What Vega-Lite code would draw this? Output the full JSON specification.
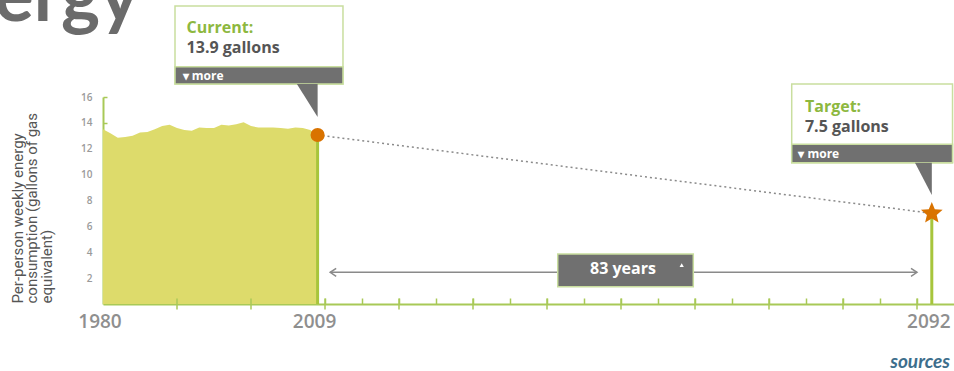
{
  "$schema": "https://vega.github.io/schema/vega-lite/v6.json",
  "width": 851,
  "height": 207,
  "autosize": {"type": "none"},
  "padding": {"left": 103, "top": 97, "right": 0, "bottom": 67},
  "background": "white",
  "config": {"view": {"stroke": null}, "font": "Open Sans"},
  "resolve": {"axis": {"x": "independent", "y": "independent"}},
  "datasets": {
    "series": [
      {"year": 1980, "value": 13.5}, {"year": 1981, "value": 13.2}, {"year": 1982, "value": 12.85},
      {"year": 1983, "value": 12.9}, {"year": 1984, "value": 13.0}, {"year": 1985, "value": 13.25},
      {"year": 1986, "value": 13.3}, {"year": 1987, "value": 13.5}, {"year": 1988, "value": 13.75},
      {"year": 1989, "value": 13.85}, {"year": 1990, "value": 13.6}, {"year": 1991, "value": 13.45},
      {"year": 1992, "value": 13.4}, {"year": 1993, "value": 13.65}, {"year": 1994, "value": 13.6},
      {"year": 1995, "value": 13.6}, {"year": 1996, "value": 13.85}, {"year": 1997, "value": 13.8},
      {"year": 1998, "value": 13.9}, {"year": 1999, "value": 14.05}, {"year": 2000, "value": 13.75},
      {"year": 2001, "value": 13.65}, {"year": 2002, "value": 13.65}, {"year": 2003, "value": 13.65},
      {"year": 2004, "value": 13.6}, {"year": 2005, "value": 13.55}, {"year": 2006, "value": 13.65},
      {"year": 2007, "value": 13.6}, {"year": 2008, "value": 13.45}, {"year": 2009, "value": 13.06}
    ],
    "points": [
      {"year": 2009, "value": 13.06, "kind": "Current"},
      {"year": 2092, "value": 7.01, "kind": "Target"}
    ],
    "currentPoint": [{"year": 2009, "value": 13.06}],
    "targetPoint": [{"year": 2092, "value": 7.01}],
    "yearLabels": [
      {"year": 1980, "label": "1980"},
      {"year": 2009, "label": "2009"},
      {"year": 2092, "label": "2092"}
    ],
    "decades": [
      {"year": 1990}, {"year": 2000}, {"year": 2010}, {"year": 2020}, {"year": 2030}, {"year": 2040},
      {"year": 2050}, {"year": 2060}, {"year": 2070}, {"year": 2080}, {"year": 2090}
    ],
    "arrow": [{"x1": 2010.7, "x2": 2090.0, "y": 2.45}],
    "box83": [{"x1": 2041.45, "x2": 2059.77, "y1": 3.86, "y2": 1.34}],
    "callouts": [
      {"name": "current", "x1": 1989.73, "x2": 2012.43, "top": 23.03, "mid": 18.34, "bot": 17.0},
      {"name": "target", "x1": 2073.07, "x2": 2094.8, "top": 17.0, "mid": 12.34, "bot": 10.92}
    ],
    "pointerCurrent": [
      {"x": 2006.2, "y": 17.0, "y2": 17.0},
      {"x": 2009, "y": 14.45, "y2": 17.0}
    ],
    "pointerTarget": [
      {"x": 2089.73, "y": 10.92, "y2": 10.92},
      {"x": 2092, "y": 8.43, "y2": 10.92}
    ],
    "texts": [
      {"t": "Current:", "x": 1991.3, "y": 20.95, "role": "head"},
      {"t": "13.9 gallons", "x": 1991.3, "y": 19.4, "role": "value"},
      {"t": "▾ more", "x": 1990.77, "y": 17.62, "role": "more"},
      {"t": "Target:", "x": 2074.86, "y": 14.86, "role": "head"},
      {"t": "7.5 gallons", "x": 2074.86, "y": 13.32, "role": "value"},
      {"t": "▾ more", "x": 2073.96, "y": 11.59, "role": "more"},
      {"t": "83 years", "x": 2050.27, "y": 2.32, "role": "years"}
    ],
    "heading": [{"t": "ergy", "x": 1965.3, "y": 21.9}],
    "footer": [{"t": "sources", "x": 2094.46, "y": -4.48}],
    "tri": [{"x": 2058.2, "y": 3.01}],
    "chevL": [{"x": 2010.7, "y": 2.45}],
    "chevR": [{"x": 2090.0, "y": 2.45}]
  },
  "layer": [
    {
      "data": {"name": "series"},
      "mark": {"type": "area", "color": "#dddb6b"},
      "encoding": {
        "x": {"field": "year", "type": "quantitative",
              "scale": {"domain": [1980, 2095], "nice": false, "zero": false},
              "axis": {"values": [1985,1990,1995,2000,2005,2010,2015,2020,2025,2030,2035,2040,2045,2050,2055,2060,2065,2070,2075,2080,2085,2090],
                       "orient": "bottom", "tickSize": -6, "labels": false, "title": null, "grid": false,
                       "domainColor": "#a8c957", "domainWidth": 2, "tickColor": "#a8c957", "tickWidth": 1.5}},
        "y": {"field": "value", "type": "quantitative",
              "scale": {"domain": [0, 16], "nice": false, "zero": true},
              "axis": {"values": [2,4,6,8,10,12,14,16], "orient": "left", "tickSize": -4, "grid": false, "labelOverlap": false,
                       "domainColor": "#a8c957", "domainWidth": 2, "tickColor": "#a8c957", "tickWidth": 1.5,
                       "labelColor": "#9a9a9a", "labelFontSize": 10, "labelFont": "Open Sans", "labelFontWeight": 600, "labelPadding": 15,
                       "title": ["Per-person weekly energy", "consumption (gallons of gas", "equivalent)"],
                       "titleFont": "Roboto", "titleFontSize": 15, "titleFontWeight": "normal", "titleColor": "#555555",
                       "titleAngle": -90, "titleAnchor": "start", "titleAlign": "left", "titleBaseline": "top",
                       "titleX": -93, "titleY": 206, "titleLineHeight": 14.5}}
      }
    },
    {
      "data": {"name": "heading"},
      "mark": {"type": "text", "color": "#6b6b6b", "fontSize": 74, "fontWeight": "bold", "font": "Lato", "align": "left", "baseline": "alphabetic"},
      "encoding": {
        "x": {"field": "x", "type": "quantitative", "axis": null},
        "y": {"field": "y", "type": "quantitative", "axis": null},
        "text": {"field": "t"}
      }
    },
    {
      "data": {"name": "footer"},
      "mark": {"type": "text", "color": "#3d6e8c", "fontSize": 19, "fontWeight": "bold", "fontStyle": "italic", "font": "Lato", "align": "right", "baseline": "middle"},
      "encoding": {
        "x": {"field": "x", "type": "quantitative", "axis": null},
        "y": {"field": "y", "type": "quantitative", "axis": null},
        "text": {"field": "t"}
      }
    },
    {
      "data": {"name": "decades"},
      "mark": {"type": "tick", "orient": "vertical", "size": 11, "thickness": 1.5, "color": "#a8c957", "opacity": 1},
      "encoding": {
        "x": {"field": "year", "type": "quantitative", "axis": null},
        "y": {"datum": 0, "type": "quantitative", "axis": null}
      }
    },
    {
      "data": {"name": "yearLabels"},
      "mark": {"type": "text", "color": "#8f8f8f", "fontSize": 19, "fontWeight": 600, "font": "Open Sans", "align": "center", "baseline": "middle", "dx": -3},
      "encoding": {
        "x": {"field": "year", "type": "quantitative", "axis": null},
        "y": {"datum": -1.4, "type": "quantitative", "axis": null},
        "text": {"field": "label"}
      }
    },
    {
      "data": {"name": "points"},
      "mark": {"type": "rule", "color": "#a7c53c", "strokeWidth": 3},
      "encoding": {
        "x": {"field": "year", "type": "quantitative", "axis": null},
        "y": {"field": "value", "type": "quantitative", "axis": null},
        "y2": {"datum": 0}
      }
    },
    {
      "data": {"name": "points"},
      "mark": {"type": "line", "color": "#8a8a8a", "strokeWidth": 1.5, "strokeDash": [2, 3]},
      "encoding": {
        "x": {"field": "year", "type": "quantitative", "axis": null},
        "y": {"field": "value", "type": "quantitative", "axis": null}
      }
    },
    {
      "data": {"name": "arrow"},
      "mark": {"type": "rule", "color": "#8a8a8a", "strokeWidth": 1.5},
      "encoding": {
        "x": {"field": "x1", "type": "quantitative", "axis": null},
        "x2": {"field": "x2"},
        "y": {"field": "y", "type": "quantitative", "axis": null}
      }
    },
    {
      "data": {"name": "chevL"},
      "mark": {"type": "point", "shape": "M1.5,-1L0,0L1.5,1", "size": 64, "filled": false, "stroke": "#8a8a8a", "strokeWidth": 1.5, "opacity": 1},
      "encoding": {
        "x": {"field": "x", "type": "quantitative", "axis": null},
        "y": {"field": "y", "type": "quantitative", "axis": null}
      }
    },
    {
      "data": {"name": "chevR"},
      "mark": {"type": "point", "shape": "M-1.5,-1L0,0L-1.5,1", "size": 64, "filled": false, "stroke": "#8a8a8a", "strokeWidth": 1.5, "opacity": 1},
      "encoding": {
        "x": {"field": "x", "type": "quantitative", "axis": null},
        "y": {"field": "y", "type": "quantitative", "axis": null}
      }
    },
    {
      "data": {"name": "box83"},
      "mark": {"type": "rect", "fill": "#707070", "stroke": "#c9de9f", "strokeWidth": 1.5},
      "encoding": {
        "x": {"field": "x1", "type": "quantitative", "axis": null},
        "x2": {"field": "x2"},
        "y": {"field": "y1", "type": "quantitative", "axis": null},
        "y2": {"field": "y2"}
      }
    },
    {
      "data": {"name": "texts"},
      "transform": [{"filter": "datum.role === 'years'"}],
      "mark": {"type": "text", "color": "#ffffff", "fontSize": 16, "fontWeight": "bold", "font": "Open Sans", "align": "center", "baseline": "alphabetic"},
      "encoding": {
        "x": {"field": "x", "type": "quantitative", "axis": null},
        "y": {"field": "y", "type": "quantitative", "axis": null},
        "text": {"field": "t"}
      }
    },
    {
      "data": {"name": "tri"},
      "mark": {"type": "point", "shape": "triangle-up", "size": 18, "filled": true, "color": "#ffffff", "opacity": 1},
      "encoding": {
        "x": {"field": "x", "type": "quantitative", "axis": null},
        "y": {"field": "y", "type": "quantitative", "axis": null}
      }
    },
    {
      "data": {"name": "callouts"},
      "mark": {"type": "rect", "fill": "#ffffff", "stroke": "#c9de9f", "strokeWidth": 1.5},
      "encoding": {
        "x": {"field": "x1", "type": "quantitative", "axis": null},
        "x2": {"field": "x2"},
        "y": {"field": "top", "type": "quantitative", "axis": null},
        "y2": {"field": "bot"}
      }
    },
    {
      "data": {"name": "callouts"},
      "mark": {"type": "rect", "fill": "#707070", "stroke": "#c9de9f", "strokeWidth": 1.5},
      "encoding": {
        "x": {"field": "x1", "type": "quantitative", "axis": null},
        "x2": {"field": "x2"},
        "y": {"field": "mid", "type": "quantitative", "axis": null},
        "y2": {"field": "bot"}
      }
    },
    {
      "data": {"name": "pointerCurrent"},
      "mark": {"type": "area", "color": "#707070", "opacity": 1},
      "encoding": {
        "x": {"field": "x", "type": "quantitative", "axis": null},
        "y": {"field": "y", "type": "quantitative", "axis": null},
        "y2": {"field": "y2"}
      }
    },
    {
      "data": {"name": "pointerTarget"},
      "mark": {"type": "area", "color": "#707070", "opacity": 1},
      "encoding": {
        "x": {"field": "x", "type": "quantitative", "axis": null},
        "y": {"field": "y", "type": "quantitative", "axis": null},
        "y2": {"field": "y2"}
      }
    },
    {
      "data": {"name": "texts"},
      "transform": [{"filter": "datum.role === 'head'"}],
      "mark": {"type": "text", "color": "#8db83f", "fontSize": 16, "fontWeight": "bold", "font": "Open Sans", "align": "left", "baseline": "alphabetic"},
      "encoding": {
        "x": {"field": "x", "type": "quantitative", "axis": null},
        "y": {"field": "y", "type": "quantitative", "axis": null},
        "text": {"field": "t"}
      }
    },
    {
      "data": {"name": "texts"},
      "transform": [{"filter": "datum.role === 'value'"}],
      "mark": {"type": "text", "color": "#555555", "fontSize": 16, "fontWeight": "bold", "font": "Open Sans", "align": "left", "baseline": "alphabetic"},
      "encoding": {
        "x": {"field": "x", "type": "quantitative", "axis": null},
        "y": {"field": "y", "type": "quantitative", "axis": null},
        "text": {"field": "t"}
      }
    },
    {
      "data": {"name": "texts"},
      "transform": [{"filter": "datum.role === 'more'"}],
      "mark": {"type": "text", "color": "#ffffff", "fontSize": 12, "fontWeight": "bold", "font": "Open Sans", "align": "left", "baseline": "middle"},
      "encoding": {
        "x": {"field": "x", "type": "quantitative", "axis": null},
        "y": {"field": "y", "type": "quantitative", "axis": null},
        "text": {"field": "t"}
      }
    },
    {
      "data": {"name": "currentPoint"},
      "mark": {"type": "point", "shape": "circle", "size": 200, "filled": true, "color": "#d97300", "opacity": 1},
      "encoding": {
        "x": {"field": "year", "type": "quantitative", "axis": null},
        "y": {"field": "value", "type": "quantitative", "axis": null}
      }
    },
    {
      "data": {"name": "targetPoint"},
      "mark": {"type": "point", "shape": "M0,-1L0.264,-0.364L0.951,-0.309L0.428,0.139L0.588,0.809L0,0.45L-0.588,0.809L-0.428,0.139L-0.951,-0.309L-0.264,-0.364Z", "size": 520, "filled": true, "color": "#d97300", "opacity": 1},
      "encoding": {
        "x": {"field": "year", "type": "quantitative", "axis": null},
        "y": {"field": "value", "type": "quantitative", "axis": null}
      }
    }
  ]
}
